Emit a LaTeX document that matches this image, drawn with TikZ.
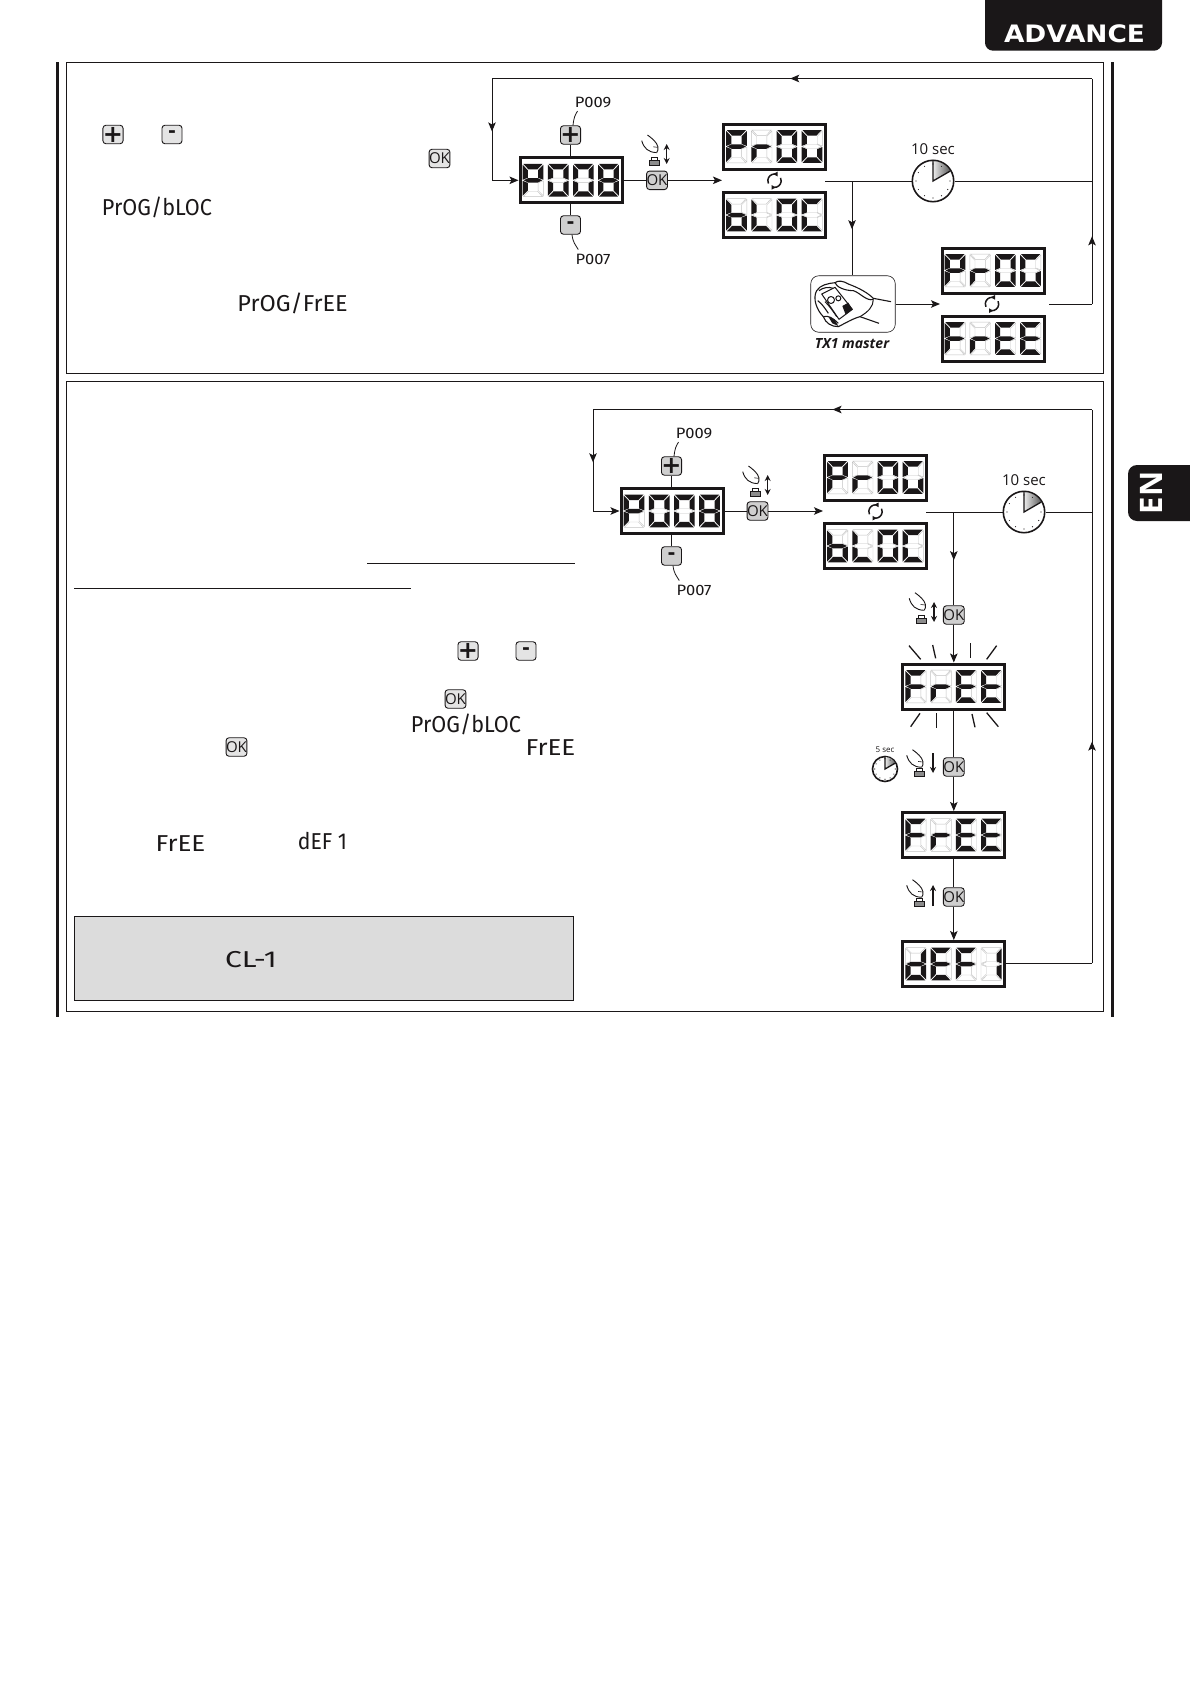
\documentclass[tikz,border=0pt]{standalone}
\usepackage{fontspec}
\usetikzlibrary{arrows.meta,decorations.markings,shapes.misc}
\setmainfont{Open Sans}
\newfontfamily\lcdfont{Fira Sans}
\newfontfamily\djb[BoldFont=* Bold]{DejaVu Sans}
\definecolor{ink}{HTML}{1A1718}
\definecolor{btnA}{HTML}{CFCFCF}
\definecolor{btnB}{HTML}{E4E4E4}
\definecolor{note}{HTML}{DCDCDC}
\definecolor{ghost}{HTML}{C2C2C2}
\tikzset{
  wire/.style={draw=ink,line width=1pt},
  arr/.style={postaction={decorate},decoration={markings,mark=at position #1 with {\arrow{Stealth[length=9pt,width=7.5pt,inset=2pt]}}}},
  wireto/.style={wire,-{Stealth[length=9pt,width=7.5pt,inset=2pt]}},
  leader/.style={draw=ink,line width=.8pt},
  framebox/.style={draw=ink,line width=1pt},
  thickbar/.style={draw=ink,line width=3pt},
  lcdbox/.style={draw=ink,line width=3pt,fill=white,rectangle,minimum width=102pt,minimum height=45pt,inner sep=0pt},
  seg1/.style={fill=ink,draw=none},
  seg0/.style={fill=white,draw=ghost,line width=.4pt},
  okbtn/.style={draw=ink,line width=.9pt,rounded corners=3pt,minimum width=20pt,minimum height=18.5pt,inner sep=0pt,font=\fontsize{15}{15}\selectfont,text=ink},
  plusbtn/.style={okbtn,font=\djb\bfseries\fontsize{24}{24}\selectfont},
  minusbtn/.style={okbtn,font=\djb\bfseries\fontsize{19}{19}\selectfont},
  lcdtext/.style={inner sep=0pt,text=ink,font=\lcdfont\fontsize{#1}{#1}\selectfont},
  clocknode/.style={circle,draw=ink,line width=1.6pt,fill=white,inner sep=0pt},
  ray/.style={draw=ink,line width=1.3pt},
  hline/.style={draw=ink,line width=.9pt},
  dbl/.style={draw=ink,line width=1.3pt,{Stealth[length=6pt,width=6pt]}-{Stealth[length=6pt,width=6pt]}},
  sgl/.style={draw=ink,line width=1.3pt,-{Stealth[length=6pt,width=6pt]}},
}
% seven segment glyphs: a b c d e f g
\def\gP{1100111}\def\gO{1111110}\def\gE{1001111}\def\gB{1111111}
\def\gr{0000101}\def\gG{1011110}\def\gb{0011111}\def\gL{0001110}
\def\gC{1001110}\def\gF{1000111}\def\gd{0111101}\def\gI{0110000}
\newcommand\lcdsegs[7]{%
  \path[seg#1] (.8,0)--(19.9,0)--(14.8,-5.4)--(5.9,-5.4)--cycle;
  \path[seg#2] (20.7,-.8)--(20.7,-15.8)--(15.5,-13.8)--(15.5,-6.2)--cycle;
  \path[seg#3] (20.7,-16.9)--(20.7,-31.9)--(15.5,-26.5)--(15.5,-18.9)--cycle;
  \path[seg#4] (.8,-32.7)--(19.9,-32.7)--(14.8,-27.3)--(5.9,-27.3)--cycle;
  \path[seg#5] (0,-16.9)--(0,-31.9)--(5.2,-26.5)--(5.2,-18.9)--cycle;
  \path[seg#6] (0,-.8)--(0,-15.8)--(5.2,-13.8)--(5.2,-6.2)--cycle;
  \path[seg#7] (1,-16.35)--(5.6,-14.1)--(15.1,-14.1)--(19.7,-16.35)--(15.1,-18.6)--(5.6,-18.6)--cycle;
}
\newcommand\lcdchar[3]{\begin{scope}[shift={(#1,#2)}]\expandafter\expandafter\expandafter\lcdsegs\csname g#3\endcsname\end{scope}}
% name, cx, cy, four glyphs
\newcommand\lcddisp[7]{%
  \node[lcdbox] (#1) at (#2,#3) {};
  \lcdchar{#2-48.4}{#3+16.35}{#4}
  \lcdchar{#2-23.2}{#3+16.35}{#5}
  \lcdchar{#2+2.0}{#3+16.35}{#6}
  \lcdchar{#2+27.2}{#3+16.35}{#7}
}
% clock: name cx cy radius
\newcommand\clockface[4]{%
  \node[clocknode,minimum size=#4*2pt] (#1) at (#2,#3) {};
  \fill[left color=white!85!gray,right color=black!65] (#2,#3)--++(0,#4*.96)arc[start angle=90,end angle=30,radius=#4*.96pt]--cycle;
  \draw[ink,line width=1.3pt] (#2,#3+#4*.96)--(#2,#3)--++(30:#4*.96);
  \foreach \a in {0,30,...,330}{\fill[ink] (#2,#3)++(\a:#4*.82) circle[radius=.55pt];}
}
% refresh symbol
\newcommand\refreshicon[2]{%
  \begin{scope}[shift={(#1,#2)}]
    \draw[ink,line width=1.5pt] (85:6.7pt) arc[start angle=85,end angle=205,radius=6.7pt];
    \draw[ink,line width=1.5pt] (265:6.7pt) arc[start angle=265,end angle=385,radius=6.7pt];
    \fill[ink] (3,9)--(-1.2,6.7)--(3,4.3)--cycle;
    \fill[ink] (-3,-9)--(1.2,-6.7)--(-3,-4.3)--cycle;
  \end{scope}
}
% hand: button-centre x, y, finger drop
\newcommand\handicon[3]{%
  \begin{scope}[shift={(#1,#2)}]
    \draw[ink,fill=white,line width=.8pt] (-3,1.5) rectangle (3,5);
    \fill[gray!90] (-5,-3.3) rectangle (5,1.7);
    \draw[ink,line width=.7pt] (-5,-3.3) rectangle (5,1.7);
    \begin{scope}[yshift=-#3pt]
      \draw[ink,line width=.9pt] (-12.3,21.7) .. controls (-10,14) and (-6,10) .. (2.7,9.7);
      \draw[ink,line width=.9pt] (-6.5,27.3) .. controls (-2,24) and (3,20) .. (3.9,15.5) .. controls (4.2,13) and (3.8,11) .. (2.7,9.7);
      \draw[ink,line width=.6pt] (-.8,15.5) -- (3.6,15);
    \end{scope}
  \end{scope}
}
\begin{document}
\begin{tikzpicture}[x=1pt,y=1pt]
\useasboundingbox (0,0) rectangle (1190,-1684);
\fill[white] (0,0) rectangle (1190,-1684);
% page furniture
\fill[ink,rounded corners=8pt] (985,8)--(985,-50.7)--(1162,-50.7)--(1162,8)--cycle;
\node[inner sep=0pt,text=white,font=\djb\bfseries\fontsize{24}{24}\selectfont,xscale=1.1] (advance) at (1074.5,-34) {ADVANCE};
\fill[ink,rounded corners=9pt] (1200,-465)--(1128,-465)--(1128,-521)--(1200,-521)--cycle;
\node[inner sep=0pt,text=white,rotate=90,font=\bfseries\fontsize{31}{31}\selectfont] (en) at (1151,-493) {EN};
\draw[thickbar] (57,-62)--(57,-1017);
\draw[thickbar] (1112,-62)--(1112,-1017);
\draw[framebox] (66,-62.5) rectangle (1103,-373);
\draw[framebox] (66,-381.5) rectangle (1103,-1011);
% ---------- upper panel, left column
\node[plusbtn,fill=btnB] (lp1) at (113,-134.5) {+};
\node[minusbtn,fill=btnB] (lm1) at (172,-134.5) {-};
\node[okbtn,fill=btnB] (lok1) at (439.5,-158.5) {OK};
\node[lcdtext=23,xscale=.94] (t1) at (157,-207.5) {PrOG/bLOC};
\node[lcdtext=23,xscale=1.02] (t2) at (292.5,-303) {PrOG/FrEE};
% ---------- upper panel, flow
\coordinate (uTR) at (1092,-78.5);
\coordinate (uTL) at (492,-78.5);
\coordinate (uBL) at (492,-180.3);
\coordinate (uRB) at (1092,-304);
\coordinate (uRM) at (1092,-181);
\coordinate (uJ) at (852,-181);
\coordinate (uS) at (825,-181);
\coordinate (uE) at (722,-180.3);
\coordinate (uFE) at (1049,-304);
\coordinate (uRE) at (940,-304);
\draw[wire,arr=.503] (uTR)--(uTL);
\draw[wire,arr=.52] (uTL)--(uBL);
\lcddisp{ua}{571}{-180.3}{P}{O}{O}{B}
\draw[wireto] (uBL)--(ua.west);
\lcddisp{ub}{774.5}{-146.5}{P}{r}{O}{G}
\lcddisp{uc}{774.5}{-215}{b}{L}{O}{C}
\lcddisp{ud}{993}{-270.5}{P}{r}{O}{G}
\lcddisp{ue}{993}{-338.5}{F}{r}{E}{E}
\node[plusbtn,fill=btnA] (up) at (570.5,-135) {+};
\node[minusbtn,fill=btnA] (um) at (570.5,-225) {-};
\node[okbtn,fill=btnA] (uok) at (657,-180.3) {OK};
\draw[wire] (ua.north-|up)--(up.south);
\draw[wire] (ua.south-|um)--(um.north);
\draw[wire] (ua.east)--(uok.west);
\draw[wireto] (uok.east)--(uE);
\node[lcdtext=15,xscale=1.1] (u9) at (593,-102) {P009};
\node[lcdtext=15,xscale=1.1] (u7) at (593,-259) {P007};
\draw[leader] ([xshift=2.5pt]up.north) .. controls +(1,8) and +(-3,-5) .. ([xshift=3pt,yshift=-3.5pt]u9.south west);
\draw[leader] ([xshift=1.5pt]um.south) .. controls +(1,-8) and +(-3,5) .. ([xshift=3pt,yshift=4pt]u7.north west);
\handicon{654}{-162.3}{0}
\draw[dbl] (666.7,-144)--(666.7,-164);
\refreshicon{774.5}{-180.7}
\refreshicon{992}{-304}
\clockface{uclk}{933}{-181}{20.7}
\node[inner sep=0pt,text=ink,font=\fontsize{15}{15}\selectfont] (u10) at (933,-149) {10 sec};
\draw[wire] (uS)--(uclk.west);
\draw[wire] (uclk.east)--(uRM);
\draw[wire,arr=.3] (uRB)--(uTR);
\draw[wire] (uFE)--(uRB);
% remote
\node[draw=ink,line width=.6pt,rounded corners=8pt,minimum width=84.5pt,minimum height=56.5pt,inner sep=0pt] (tx) at (853,-304) {};
\draw[wire,arr=.51] (uJ)--(tx.north-|uJ);
\draw[wireto] (tx.east)--(uRE);
\begin{scope}[shift={(805,-270)},x=.3333pt,y=-.3333pt,line join=round]
  \draw[ink,line width=1.1pt] (258,95)--(205,85) .. controls (190,70) and (165,55) .. (130,42) .. controls (115,33) and (100,30) .. (90,38) .. controls (70,40) and (45,45) .. (35,62) .. controls (22,85) and (35,120) .. (55,140) .. controls (62,160) and (80,170) .. (100,170) .. controls (120,160) and (145,145) .. (165,140)--(222,160);
  \draw[ink,line width=1.1pt] (90,38) .. controls (95,52) and (120,62) .. (145,62) .. controls (165,68) and (185,95) .. (205,88);
  \draw[ink,line width=1pt] (165,140) .. controls (190,125) and (205,110) .. (205,88);
  \draw[ink,line width=1.1pt] (42,62) .. controls (55,52) and (70,50) .. (85,55);
  \draw[ink,line width=1pt,fill=white] (50,72)--(90,52)--(142,118)--(102,148)--cycle;
  \fill[ink] (112,108)--(130,98)--(142,118)--(122,134)--cycle;
  \draw[ink,line width=1pt] (78,90) circle[radius=3.5pt];
  \draw[ink,line width=1pt] (100,85) circle[radius=2.5pt];
  \draw[ink,line width=1pt] (60,95) .. controls (75,110) and (85,125) .. (95,140);
  \draw[ink,line width=1.1pt] (38,92) .. controls (50,100) and (60,115) .. (70,130);
  \draw[ink,line width=1.1pt] (55,140) .. controls (70,135) and (85,145) .. (100,160);
  \fill[ink] (70,140)--(88,148)--(100,168)--(82,160)--cycle;
\end{scope}
\node[inner sep=0pt,text=ink,font=\bfseries\itshape\fontsize{14}{14}\selectfont] (txl) at (852,-344) {TX1 master};
% ---------- lower panel, left column
\draw[hline] (367,-563)--(575,-563);
\draw[hline] (74,-588)--(411,-588);
\node[plusbtn,fill=btnB] (lp2) at (468,-651) {+};
\node[minusbtn,fill=btnB] (lm2) at (526,-651) {-};
\node[okbtn,fill=btnB] (lok2) at (455.5,-699) {OK};
\node[okbtn,fill=btnB] (lok3) at (236.5,-747) {OK};
\node[lcdtext=23,xscale=.94] (t3) at (466,-724) {PrOG/bLOC};
\node[lcdtext=23,xscale=1.13] (t4) at (550.5,-747.5) {FrEE};
\node[lcdtext=23,xscale=1.13] (t5) at (180.5,-844) {FrEE};
\node[lcdtext=23,xscale=.92] (t6) at (322.5,-841.5) {dEF 1};
\node[draw=ink,line width=.9pt,fill=note,minimum width=499.5pt,minimum height=84pt,inner sep=0pt] (notebox) at (324,-958.5) {};
\node[lcdtext=23,xscale=1.3] (t7) at (251,-959.5) {CL-1};
% ---------- lower panel, flow
\coordinate (lTR) at (1092,-409.5);
\coordinate (lTL) at (593,-409.5);
\coordinate (lBL) at (593,-511);
\coordinate (lRM) at (1092,-512);
\coordinate (lRB) at (1092,-963);
\coordinate (lJ) at (953.8,-512);
\coordinate (lS) at (926,-512);
\coordinate (lE) at (823,-511);
\draw[wire,arr=.52] (lTR)--(lTL);
\draw[wire,arr=.52] (lTL)--(lBL);
\lcddisp{la}{672}{-511}{P}{O}{O}{B}
\draw[wireto] (lBL)--(la.west);
\lcddisp{lb}{875.5}{-477.5}{P}{r}{O}{G}
\lcddisp{lc}{875.5}{-546}{b}{L}{O}{C}
\lcddisp{ld}{953.8}{-686.5}{F}{r}{E}{E}
\lcddisp{le}{953.8}{-835}{F}{r}{E}{E}
\lcddisp{lf}{953.8}{-964}{d}{E}{F}{I}
\node[plusbtn,fill=btnA] (lp) at (671.5,-466) {+};
\node[minusbtn,fill=btnA] (lm) at (671.5,-556) {-};
\node[okbtn,fill=btnA] (lok) at (757.5,-511) {OK};
\draw[wire] (la.north-|lp)--(lp.south);
\draw[wire] (la.south-|lm)--(lm.north);
\draw[wire] (la.east)--(lok.west);
\draw[wireto] (lok.east)--(lE);
\node[lcdtext=15,xscale=1.1] (l9) at (694,-433) {P009};
\node[lcdtext=15,xscale=1.1] (l7) at (694,-590) {P007};
\draw[leader] ([xshift=2.5pt]lp.north) .. controls +(1,8) and +(-3,-5) .. ([xshift=3pt,yshift=-3.5pt]l9.south west);
\draw[leader] ([xshift=1.5pt]lm.south) .. controls +(1,-8) and +(-3,5) .. ([xshift=3pt,yshift=4pt]l7.north west);
\handicon{755}{-493.3}{0}
\draw[dbl] (767.7,-475)--(767.7,-495);
\refreshicon{875.5}{-511.5}
\clockface{lclk}{1024}{-512}{20.7}
\node[inner sep=0pt,text=ink,font=\fontsize{15}{15}\selectfont] (l10) at (1024,-480) {10 sec};
\draw[wire] (lS)--(lclk.west);
\draw[wire] (lclk.east)--(lRM);
\draw[wire] (lf.east|-lRB)--(lRB);
\draw[wire,arr=.4] (lRB)--(lTR);
\node[okbtn,fill=btnA] (ok1) at (953.8,-615) {OK};
\node[okbtn,fill=btnA] (ok2) at (953.8,-767) {OK};
\node[okbtn,fill=btnA] (ok3) at (953.8,-897) {OK};
\draw[wire,arr=.516] (lJ)--(ok1.north);
\draw[wireto] (ok1.south)--(ld.north);
\draw[wire] (ld.south)--(ok2.north);
\draw[wireto] (ok2.south)--(le.north);
\draw[wire] (le.south)--(ok3.north);
\draw[wireto] (ok3.south)--(lf.north);
\handicon{921.5}{-620}{0}
\draw[dbl] (934,-602)--(934,-622);
\handicon{919}{-773}{4}
\draw[sgl] (933,-753)--(933,-773);
\handicon{919}{-903}{4}
\draw[sgl] (933,-906)--(933,-885);
\clockface{sclk}{885}{-769}{12.5}
\node[inner sep=0pt,text=ink,font=\fontsize{8}{8}\selectfont] (l5) at (885,-749.5) {5 sec};
% flash rays
\begin{scope}[shift={(850,-590)},x=.3333pt,y=-.3333pt]
\draw[ray] (177,167)--(212,208);
\draw[ray] (248,165)--(257,205);
\draw[ray] (361,160)--(361,205);
\draw[ray] (440,167)--(410,208);
\draw[ray] (210,370)--(182,410);
\draw[ray] (260,370)--(260,415);
\draw[ray] (366,372)--(375,412);
\draw[ray] (410,368)--(445,410);
\end{scope}
\end{tikzpicture}
\end{document}
